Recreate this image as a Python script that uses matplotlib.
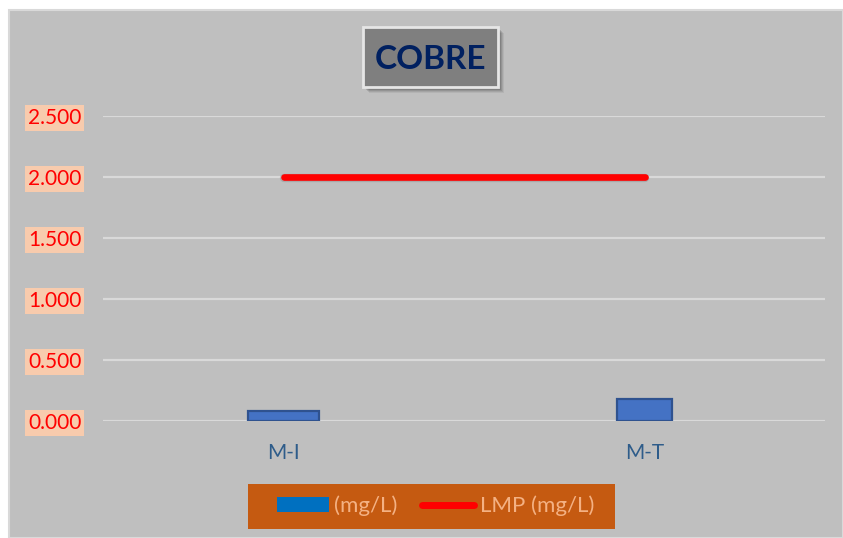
import matplotlib
matplotlib.use("Agg")
import matplotlib.pyplot as plt
from matplotlib.patches import Rectangle, Patch
from matplotlib.lines import Line2D

plt.rcParams['font.family'] = ['Lato', 'DejaVu Sans']

# Data
categories = ["M-I", "M-T"]
copper_mg_l = [0.08, 0.18]
lmp_mg_l = [2.0, 2.0]
y_ticks = [0.0, 0.5, 1.0, 1.5, 2.0, 2.5]
y_tick_labels = ["0.000", "0.500", "1.000", "1.500", "2.000", "2.500"]

W, H = 843, 538
fig = plt.figure(figsize=(W / 100, H / 100), dpi=100)
fig.patch.set_facecolor("white")


def fx(x):
    return x / W


def fy(y):
    return 1 - y / H


# grey chart panel with a light edge
fig.patches.append(Rectangle((fx(9), 0), 1 - fx(9), fy(10), transform=fig.transFigure,
                             facecolor="#bfbfbf", edgecolor="#d9d9d9", linewidth=1.5, zorder=-5))

ax = fig.add_axes([fx(103), fy(421), fx(825) - fx(103), fy(116) - fy(421)])
ax.set_zorder(3)
ax.set_facecolor("none")
for s in ax.spines.values():
    s.set_visible(False)

x = list(range(len(categories)))
ax.set_xlim(-0.5, 1.5)
ax.set_ylim(0, 2.5)
ax.set_yticks(y_ticks)
ax.set_yticklabels(y_tick_labels)
ax.grid(axis="y", color="#d9d9d9", linewidth=1.6, zorder=0)
ax.set_axisbelow(True)

ax.bar(x, copper_mg_l, width=[0.197, 0.152], color="#4472c4", edgecolor="#2f528f",
       linewidth=1.6, zorder=2)

# faint shadow under the limit line, then the line itself
ax.plot(x, [v - 0.012 for v in lmp_mg_l], color="#808080", linewidth=6, alpha=0.35,
        solid_capstyle="round", zorder=2)
ax.plot(x, lmp_mg_l, color="#ff0000", linewidth=4.8, solid_capstyle="round", zorder=3)

ax.set_xticks(x)
ax.set_xticklabels(categories)
ax.tick_params(axis="x", length=0, pad=16, labelsize=15, labelcolor="#2e5c8a")
ax.tick_params(axis="y", length=0, pad=15.5, labelsize=15, labelcolor="#ff0000")
for lbl in ax.get_yticklabels():
    lbl.set_bbox(dict(boxstyle="square,pad=0.14", facecolor="#f8cbad", edgecolor="none"))

# title box with a soft drop shadow
bx0, by0, bx1, by1 = 363, 27, 498, 87
for i, a in enumerate([0.06, 0.08, 0.10, 0.12]):
    off = 6 - i
    fig.patches.append(Rectangle((fx(bx0 + off), fy(by1 + off)), fx(bx1 - bx0), (by1 - by0) / H,
                                 transform=fig.transFigure, facecolor="black", alpha=a,
                                 edgecolor="none", zorder=1))
fig.patches.append(Rectangle((fx(bx0), fy(by1)), fx(bx1 - bx0), (by1 - by0) / H,
                             transform=fig.transFigure, facecolor="#7f7f7f",
                             edgecolor="#e6e6e6", linewidth=2, zorder=2))
fig.text(fx((bx0 + bx1) / 2), fy((by0 + by1) / 2), "COBRE", ha="center", va="center_baseline",
         fontsize=24, fontweight="bold", color="#002060", zorder=3)

# legend panel
fig.patches.append(Rectangle((fx(248), fy(529)), fx(615 - 248), (529 - 484) / H,
                             transform=fig.transFigure, facecolor="#c55a11",
                             edgecolor="none", zorder=1))
handles = [Patch(facecolor="#0070c0", edgecolor="none"),
           Line2D([0], [0], color="#ff0000", linewidth=5, solid_capstyle="round")]
leg = fig.legend(handles, ["(mg/L)", "LMP (mg/L)"], loc="center",
                 bbox_to_anchor=(fx(435.5), fy(506)), ncol=2, frameon=False, fontsize=16,
                 handlelength=2.35, handletextpad=0.25, columnspacing=1.1)
leg.set_zorder(4)
for t in leg.get_texts():
    t.set_color("#f4b183")

fig.savefig("out.png", dpi=100, facecolor=fig.get_facecolor())
